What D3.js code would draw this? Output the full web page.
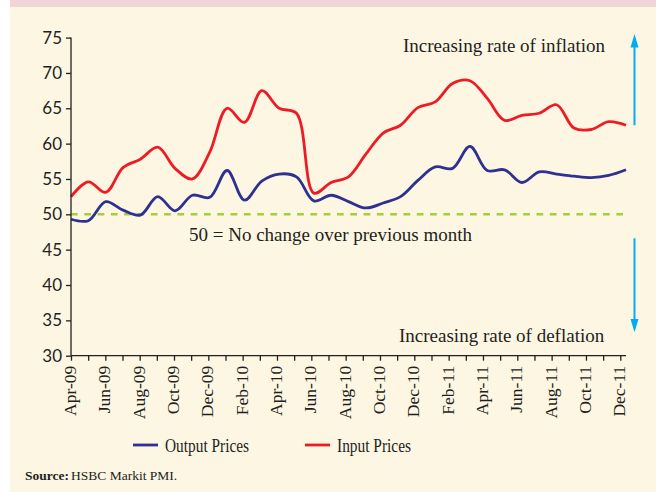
<!DOCTYPE html>
<html>
<head>
<meta charset="utf-8">
<script src="https://cdn.jsdelivr.net/npm/d3@7"></script>
<style>
  body { margin: 0; background: #fff; }
  svg { display: block; }
</style>
</head>
<body>
<svg></svg>
<script>
const months = [
  "Apr-09", "May-09", "Jun-09", "Jul-09", "Aug-09", "Sep-09", "Oct-09", "Nov-09", "Dec-09",
  "Jan-10", "Feb-10", "Mar-10", "Apr-10", "May-10", "Jun-10", "Jul-10", "Aug-10", "Sep-10",
  "Oct-10", "Nov-10", "Dec-10", "Jan-11", "Feb-11", "Mar-11", "Apr-11", "May-11", "Jun-11",
  "Jul-11", "Aug-11", "Sep-11", "Oct-11", "Nov-11", "Dec-11"
];

const outputPrices = [
  49.3, 49.1, 51.8, 50.6, 49.9, 52.5, 50.5, 52.7, 52.4,
  56.2, 52.0, 54.7, 55.7, 55.3, 51.9, 52.7, 51.8, 50.9,
  51.6, 52.5, 54.8, 56.7, 56.5, 59.6, 56.2, 56.3, 54.5,
  56.0, 55.7, 55.4, 55.2, 55.5, 56.3
];

const inputPrices = [
  52.5, 54.6, 53.1, 56.6, 57.8, 59.5, 56.5, 55.0, 58.8,
  65.0, 63.0, 67.5, 65.0, 64.3, 53.0, 54.5, 55.3, 58.5,
  61.5, 62.6, 65.1, 65.9, 68.5, 68.9, 66.4, 63.3, 64.0,
  64.3, 65.5, 62.2, 62.0, 63.1, 62.6
];

const yTicks = [30, 35, 40, 45, 50, 55, 60, 65, 70, 75];
const baseline = 50;

const svgWidth = 656;
const svgHeight = 492;
const serif = "'Liberation Serif', 'Times New Roman', serif";
const ink = "#231f20";

const svg = d3
  .select("svg")
  .attr("width", svgWidth)
  .attr("height", svgHeight);

// page background: pink strip at the top, cream panel below
svg.append("rect").attr("x", 0).attr("y", 0).attr("width", svgWidth).attr("height", svgHeight).attr("fill", "#fff");
svg.append("rect").attr("x", 10).attr("y", 0).attr("width", svgWidth - 10).attr("height", 7).attr("fill", "#f2d5d9");
svg.append("rect").attr("x", 10).attr("y", 7).attr("width", svgWidth - 10).attr("height", svgHeight - 7).attr("fill", "#fdf6e3");

const yScale = d3
  .scaleLinear()
  .domain([30, 75])
  .range([355.7, 37.6]);

// ticks for the months
const xScale = d3
  .scaleLinear()
  .domain([0, months.length - 1])
  .range([71, 620.3]);

// the lines run a touch wider than the ticks
const xLine = d3
  .scaleLinear()
  .domain([0, months.length - 1])
  .range([71, 626]);

// 50 line
svg
  .append("line")
  .attr("x1", xLine(0))
  .attr("x2", xLine(months.length - 1))
  .attr("y1", yScale(baseline))
  .attr("y2", yScale(baseline))
  .attr("stroke", "#a6ce39")
  .attr("stroke-width", 2.5)
  .attr("stroke-dasharray", "6.7,6.6");

const line = d3
  .line()
  .x((d, i) => xLine(i))
  .y(d => yScale(d))
  .curve(d3.curveCatmullRom.alpha(0.5));

svg
  .append("path")
  .datum(inputPrices)
  .attr("d", line)
  .attr("fill", "none")
  .attr("stroke", "#ed1c24")
  .attr("stroke-width", 2.8);

svg
  .append("path")
  .datum(outputPrices)
  .attr("d", line)
  .attr("fill", "none")
  .attr("stroke", "#2e3192")
  .attr("stroke-width", 2.8);

// axes
const y_axis = d3
  .axisLeft(yScale)
  .tickValues(yTicks)
  .tickSize(5)
  .tickPadding(4);

const yG = svg
  .append("g")
  .attr("transform", "translate(71,0)")
  .call(y_axis);
yG.select(".domain").attr("d", "M0," + yScale(75) + "V" + yScale(30));
yG.selectAll("line, path").attr("stroke", ink).attr("stroke-width", 1.3);
yG.selectAll("text")
  .attr("fill", ink)
  .style("font-family", "Lato, 'Noto Sans', sans-serif")
  .style("font-size", "17px");

const x_axis = d3
  .axisBottom(xScale)
  .tickValues(d3.range(months.length))
  .tickSize(5)
  .tickFormat(i => (i % 2 === 0 ? months[i] : ""));

const xG = svg
  .append("g")
  .attr("transform", "translate(0," + yScale(30) + ")")
  .call(x_axis);
xG.select(".domain").attr("d", "M71,0H626");
xG.selectAll("line, path").attr("stroke", ink).attr("stroke-width", 1.3);
xG.selectAll("text")
  .attr("transform", "rotate(-90)")
  .attr("x", -10)
  .attr("y", 0)
  .attr("dy", "0.25em")
  .style("text-anchor", "end")
  .attr("fill", ink)
  .style("font-family", serif)
  .style("font-size", "17.5px");

// annotations
const note = (txt, x, y) =>
  svg
    .append("text")
    .attr("x", x)
    .attr("y", y)
    .attr("fill", ink)
    .style("font-family", serif)
    .style("font-size", "19px")
    .text(txt);

note("Increasing rate of inflation", 403, 52);
note("50 = No change over previous month", 189, 241);
note("Increasing rate of deflation", 399, 342);

// cyan arrows
const arrowX = 634.5;
const arrowColor = "#00aeef";
svg.append("line")
  .attr("x1", arrowX).attr("x2", arrowX)
  .attr("y1", yScale(62.6)).attr("y2", yScale(74.5))
  .attr("stroke", arrowColor).attr("stroke-width", 2);
svg.append("path")
  .attr("d", d3.line()([[arrowX - 4, yScale(73.6)], [arrowX, yScale(75.5)], [arrowX + 4, yScale(73.6)]]))
  .attr("fill", arrowColor);
svg.append("line")
  .attr("x1", arrowX).attr("x2", arrowX)
  .attr("y1", yScale(46.6)).attr("y2", yScale(34.3))
  .attr("stroke", arrowColor).attr("stroke-width", 2);
svg.append("path")
  .attr("d", d3.line()([[arrowX - 4, yScale(35.2)], [arrowX, yScale(33.3)], [arrowX + 4, yScale(35.2)]]))
  .attr("fill", arrowColor);

// legend
const legend = [
  { name: "Output Prices", color: "#2e3192", x: 133, w: 84 },
  { name: "Input Prices", color: "#ed1c24", x: 305, w: 74 }
];

const lg = svg
  .selectAll(".legend")
  .data(legend)
  .enter()
  .append("g")
  .attr("class", "legend")
  .attr("transform", d => "translate(" + d.x + ",445)");

lg.append("line")
  .attr("x1", 0)
  .attr("x2", 25)
  .attr("stroke", d => d.color)
  .attr("stroke-width", 2.8);

lg.append("text")
  .attr("x", 32)
  .attr("y", 6.5)
  .attr("fill", ink)
  .attr("textLength", d => d.w)
  .attr("lengthAdjust", "spacingAndGlyphs")
  .style("font-family", serif)
  .style("font-size", "18px")
  .text(d => d.name);

// source line
svg
  .append("text")
  .attr("x", 25)
  .attr("y", 480)
  .attr("fill", ink)
  .attr("font-weight", "bold")
  .style("font-family", serif)
  .style("font-size", "13.5px")
  .text("Source:");

svg
  .append("text")
  .attr("x", 71)
  .attr("y", 480)
  .attr("fill", ink)
  .style("font-family", serif)
  .style("font-size", "13.5px")
  .text("HSBC Markit PMI.");
</script>
</body>
</html>
